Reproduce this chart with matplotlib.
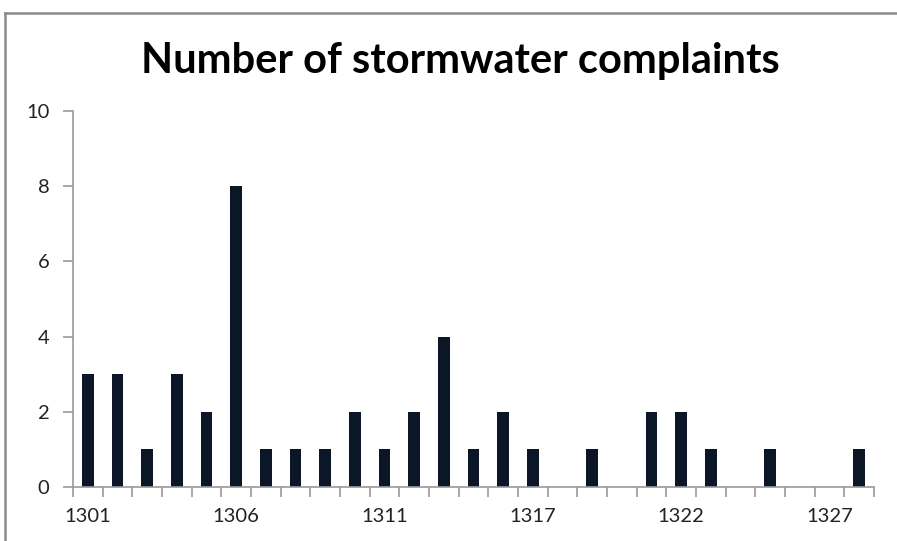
import matplotlib.pyplot as plt
from matplotlib.lines import Line2D
import numpy as np

plt.rcParams['font.family'] = ['Lato', 'DejaVu Sans']

# zip codes along the category axis (only every 5th one is labelled)
codes = ['1301', '1302', '1303', '1304', '1305', '1306', '1307', '1308',
         '1309', '1310', '1311', '1312', '1313', '1314', '1316', '1317',
         '1318', '1319', '1320', '1321', '1322', '1323', '1324', '1325',
         '1326', '1327', '1328']
complaints = [3, 3, 1, 3, 2, 8, 1, 1, 1, 2, 1, 2, 4, 1, 2, 1,
              0, 1, 0, 2, 2, 1, 0, 1, 0, 0, 1]
yticks = [0, 2, 4, 6, 8, 10]

fig = plt.figure(figsize=(8.97, 5.41), dpi=100)
ax = fig.add_axes([73 / 897, 54 / 541, 801 / 897, 376 / 541])

x = np.arange(len(codes))
ax.bar(x, complaints, width=0.4, color='#0b1726')

ax.set_xlim(-0.5, len(codes) - 0.5)
ax.set_ylim(0, 10)

# labels every 5th category, tick marks between categories
ax.set_xticks(x[::5])
ax.set_xticklabels(codes[::5])
ax.set_xticks(np.arange(len(codes) + 1) - 0.5, minor=True)
ax.tick_params(axis='x', which='major', length=0, pad=15,
               labelsize=14.5, labelcolor='#222222')
ax.tick_params(axis='x', which='minor', length=7, color='#999999',
               width=1.2)
ax.set_yticks(yticks)
ax.tick_params(axis='y', length=7, color='#999999', width=1.2, pad=10,
               labelsize=14.5, labelcolor='#222222')

for side in ['top', 'right']:
    ax.spines[side].set_visible(False)
for side in ['left', 'bottom']:
    ax.spines[side].set_color('#999999')
    ax.spines[side].set_linewidth(1.2)

fig.text(460 / 897, 1 - 61 / 541, 'Number of stormwater complaints',
         ha='center', va='center', fontsize=30, fontweight='bold')

# outer chart border (cropped on the right and bottom)
fig.add_artist(Line2D([5 / 897, 5 / 897], [0, 1 - 13 / 541],
                      transform=fig.transFigure, color='#8a8a8a', lw=1.8))
fig.add_artist(Line2D([5 / 897, 1], [1 - 13 / 541, 1 - 13 / 541],
                      transform=fig.transFigure, color='#8a8a8a', lw=1.8))

plt.savefig('out.png', dpi=100)
